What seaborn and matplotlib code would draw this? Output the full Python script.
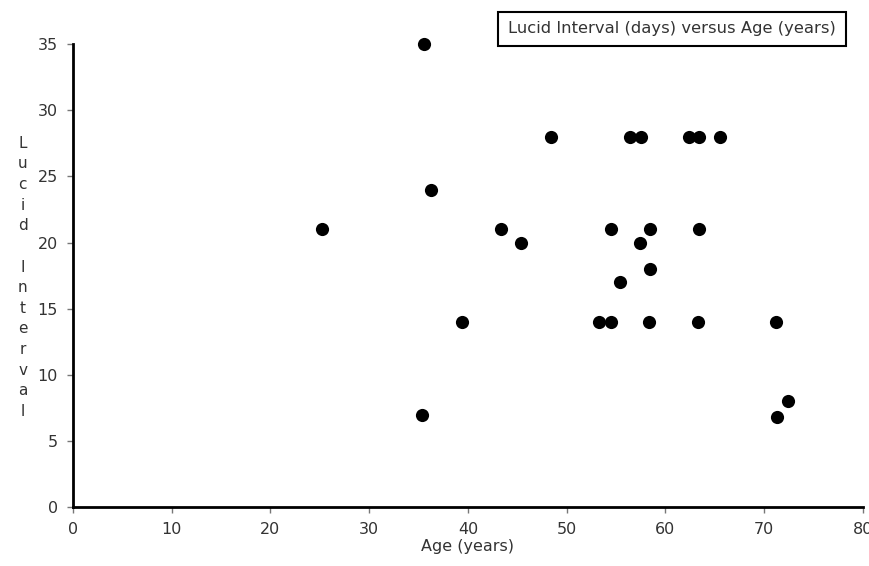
import matplotlib
matplotlib.use("Agg")
import matplotlib.pyplot as plt
import seaborn as sns
import pandas as pd

# Age (years) and lucid interval (days)
age = [35.5, 48.4, 56.4, 57.5, 62.4, 63.4, 65.5,
       36.3, 25.2, 43.3, 45.4, 54.5, 57.4, 58.4, 63.4,
       58.4, 55.4,
       39.4, 53.3, 54.5, 58.3, 63.3, 71.2,
       35.3, 71.3, 72.4]
lucid = [35, 28, 28, 28, 28, 28, 28,
         24, 21, 21, 20, 21, 20, 21, 21,
         18, 17,
         14, 14, 14, 14, 14, 14,
         7, 6.8, 8]

x_ticks = [0, 10, 20, 30, 40, 50, 60, 70, 80]
y_ticks = [0, 5, 10, 15, 20, 25, 30, 35]

df = pd.DataFrame({"age": age, "lucid": lucid})

sns.set_style("white")
plt.rcParams['font.family'] = ['DejaVu Sans']

fig = plt.figure(figsize=(8.69, 5.66), dpi=100)
ax = fig.add_axes([0.084, 0.104, 0.909, 0.818])

sns.scatterplot(data=df, x="age", y="lucid", ax=ax, color="black",
                s=90, edgecolor="black", linewidth=0, legend=False,
                clip_on=False)

ax.set_xlim(0, 80)
ax.set_ylim(0, 35)
ax.set_xticks(x_ticks)
ax.set_yticks(y_ticks)
ax.tick_params(axis="both", bottom=True, left=True, labelsize=11.5,
               length=4, width=1, color="#777777", labelcolor="#333333",
               direction="out", pad=7)

for side in ["top", "right"]:
    ax.spines[side].set_visible(False)
for side in ["left", "bottom"]:
    ax.spines[side].set_color("black")
    ax.spines[side].set_linewidth(2)

ax.set_xlabel("Age (years)", fontsize=11.5, color="#333333", labelpad=1)
ax.set_ylabel("")

# stacked vertical y-axis label
fig.text(0.026, 0.51, "L\nu\nc\ni\nd\n\nI\nn\nt\ne\nr\nv\na\nl",
         ha="center", va="center", fontsize=11, color="#333333",
         linespacing=1.47)

# boxed title
fig.text(0.773, 0.949, "Lucid Interval (days) versus Age (years)",
         ha="center", va="center", fontsize=11.8, color="#333333",
         bbox=dict(boxstyle="square,pad=0.6", facecolor="white",
                   edgecolor="black", linewidth=1.5))

fig.savefig("out.png", dpi=100)
